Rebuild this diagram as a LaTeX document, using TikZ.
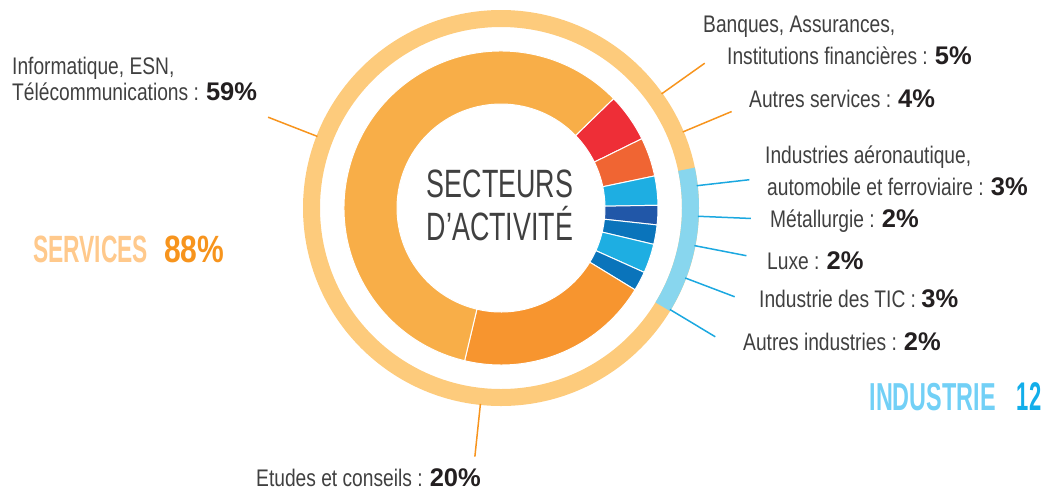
\documentclass[tikz,border=0pt]{standalone}
\usepackage{fontspec}
\setmainfont{Liberation Sans}
\newfontfamily\lblfont[FakeStretch=0.8]{Liberation Sans}
\newfontfamily\ctrfont[FakeStretch=0.68]{Liberation Sans}
\newfontfamily\bigfont[FakeStretch=0.6]{Liberation Sans}
\newfontfamily\numfontA[FakeStretch=0.79]{Liberation Sans}
\newfontfamily\numfontB[FakeStretch=0.55]{Liberation Sans}
\usetikzlibrary{calc}
\definecolor{cInfo}{HTML}{F8AE48}
\definecolor{cEtud}{HTML}{F7952F}
\definecolor{cBanq}{HTML}{EE2E37}
\definecolor{cAutS}{HTML}{F06533}
\definecolor{cLBlue}{HTML}{1EAEE2}
\definecolor{cDBlue}{HTML}{2157A8}
\definecolor{cMBlue}{HTML}{0A74BB}
\definecolor{ringOr}{HTML}{FDCB7C}
\definecolor{ringBl}{HTML}{88D6EE}
\definecolor{lnOr}{HTML}{F7941D}
\definecolor{lnBl}{HTML}{1BA8E0}
\definecolor{txt}{HTML}{404040}
\definecolor{pct}{HTML}{231F20}
\definecolor{servL}{HTML}{FFC98C}
\definecolor{servD}{HTML}{F7941D}
\definecolor{indL}{HTML}{72D0F6}
\definecolor{indD}{HTML}{12AEEA}
\newcommand\pc[1]{{\normalfont\bfseries\fontsize{25.5}{26}\selectfont\color{pct}#1}}
\newcommand\donutseg[3]{%
  \path[fill=#3,draw=white,line width=1pt] ($(C)+(#1:157)$) arc[start angle=#1,end angle=#2,radius=157]
    -- ($(C)+(#2:104)$) arc[start angle=#2,end angle=#1,radius=104] -- cycle;}
\tikzset{
  lbl/.style={anchor=base west,inner sep=0pt,text=txt,font=\lblfont\fontsize{24}{26}\selectfont},
  ctr/.style={anchor=base,inner sep=0pt,text=txt,font=\ctrfont\fontsize{39.5}{43}\selectfont},
  leadOr/.style={draw=lnOr,line width=1.5pt},
  leadBl/.style={draw=lnBl,line width=1.5pt},
}
\begin{document}
\begin{tikzpicture}[x=1pt,y=1pt]
\useasboundingbox (0,-491) rectangle (1046,0);
\coordinate (C) at (501,-208);
% outer ring
\draw[ringOr,line width=17pt] (C) circle[radius=189.5];
\draw[ringBl,line width=17pt] ($(C)+(11.8:189.5)$) arc[start angle=11.8,end angle=-31.4,radius=189.5];
% donut segments
\donutseg{44.2}{26.2}{cBanq}
\donutseg{26.2}{11.8}{cAutS}
\donutseg{11.8}{1.0}{cLBlue}
\donutseg{1.0}{-6.2}{cDBlue}
\donutseg{-6.2}{-13.4}{cMBlue}
\donutseg{-13.4}{-24.2}{cLBlue}
\donutseg{-24.2}{-31.4}{cMBlue}
\donutseg{-31.4}{-103.4}{cEtud}
\donutseg{-103.4}{-315.8}{cInfo}
% leader coordinates
\foreach \n/\a in {info/158.7,banq/35.4,auts/22.7,aero/6.5,meta/-2.4,luxe/-11,tic/-20.8,auti/-31,etud/-96}{
  \coordinate (i\n) at ($(C)+(\a:197)$);
  \coordinate (o\n) at ($(C)+(\a:250)$);
}
\draw[leadOr] (iinfo) -- (oinfo);
\draw[leadOr] (ibanq) -- (obanq);
\draw[leadOr] (iauts) -- (oauts);
\draw[leadBl] (iaero) -- (oaero);
\draw[leadBl] (imeta) -- (ometa);
\draw[leadBl] (iluxe) -- (oluxe);
\draw[leadBl] (itic) -- (otic);
\draw[leadBl] (iauti) -- (oauti);
\draw[leadOr] (ietud) -- (oetud);
% center title
\node[ctr] (title1) at (500,-197) {SECTEURS};
\node[ctr] (title2) at (500,-240) {D’ACTIVITÉ};
% labels
\node[lbl] (tinfo1) at (12,-74) {Informatique, ESN,};
\node[lbl] (tinfo2) at (12,-100) {Télécommunications : \pc{59\%}};
\node[lbl] (tbanq1) at (703,-32) {Banques, Assurances,};
\node[lbl] (tbanq2) at (727,-64) {Institutions financières : \pc{5\%}};
\node[lbl] (tauts) at (749,-107.5) {Autres services : \pc{4\%}};
\node[lbl] (taero1) at (765,-163) {Industries aéronautique,};
\node[lbl] (taero2) at (767,-195) {automobile et ferroviaire : \pc{3\%}};
\node[lbl] (tmeta) at (770,-227) {Métallurgie : \pc{2\%}};
\node[lbl] (tluxe) at (767,-269) {Luxe : \pc{2\%}};
\node[lbl] (ttic) at (759,-307) {Industrie des TIC : \pc{3\%}};
\node[lbl] (tauti) at (743,-350) {Autres industries : \pc{2\%}};
\node[lbl] (tetud) at (256,-486) {Etudes et conseils : \pc{20\%}};
% totals
\node[anchor=base west,inner sep=0pt,text=servL,font=\bigfont\bfseries\fontsize{38}{40}\selectfont] (serv) at (33,-262.3) {SERVICES};
\node[anchor=base west,inner sep=0pt,text=servD,font=\numfontA\bfseries\fontsize{38}{40}\selectfont] (servp) at (164,-262.3) {88\%};
\node[anchor=base west,inner sep=0pt,text=indL,font=\bigfont\bfseries\fontsize{39}{41}\selectfont] (ind) at (869.3,-410.7) {INDUSTRIE};
\node[anchor=base west,inner sep=0pt,text=indD,font=\numfontB\bfseries\fontsize{40}{42}\selectfont] (indp) at (1016.7,-410.7) {12};
\end{tikzpicture}
\end{document}
